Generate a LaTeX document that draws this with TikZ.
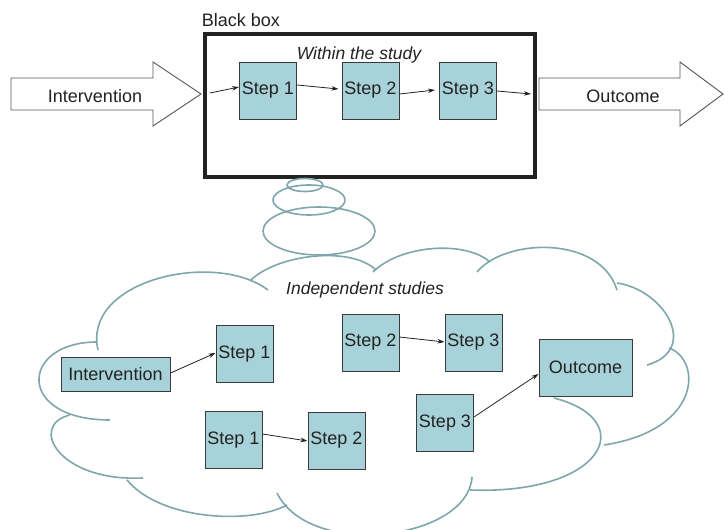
\documentclass[tikz,border=0pt]{standalone}
\usepackage{fontspec}
\setmainfont{Liberation Sans}
\usetikzlibrary{arrows.meta,calc}
\definecolor{boxfill}{HTML}{A8D2D9}
\definecolor{boxline}{HTML}{3A3A3A}
\definecolor{cloudc}{HTML}{7FA6AD}
\definecolor{ink}{HTML}{222222}
\definecolor{arrline}{HTML}{555555}
\begin{document}
\begin{tikzpicture}[x=1pt,y=-1pt,
  stepbox/.style={draw=boxline,fill=boxfill,line width=1pt,minimum width=57pt,minimum height=57pt,inner sep=0pt,text=ink,font=\fontsize{18}{21}\selectfont},
  lbl/.style={text=ink,font=\fontsize{18}{21}\selectfont,inner sep=0pt},
  conn/.style={draw=ink,line width=0.8pt,-{Stealth[length=7pt,width=4.5pt]}},
  cloudline/.style={draw=cloudc,line width=1.6pt},
  bigarrow/.style={draw=arrline,fill=white,line width=0.9pt}]
\useasboundingbox (0,0) rectangle (724,530);
\fill[white] (0,0) rectangle (724,530);

% --- top: black box ---
\node[lbl] (bblabel) at (241,20) {Black box};
\draw[draw=ink,line width=4pt] (205,34) rectangle (535,177);
\node[lbl,font=\fontsize{17.5}{21}\selectfont\itshape] (within) at (359,55) {Within the study};

\draw[bigarrow] (11,78) -- (153,78) -- (153,62) -- (201,94) -- (153,126) -- (153,110) -- (11,110) -- cycle;
\node[lbl] (intv) at (95,96) {Intervention};
\draw[bigarrow] (539,78) -- (680,78) -- (680,62) -- (723,94) -- (680,126) -- (680,110) -- (539,110) -- cycle;
\node[lbl] (outc) at (623,96) {Outcome};

\node[stepbox] (s1) at (268,90.5) {Step 1};
\node[stepbox] (s2) at (370.5,90.5) {Step 2};
\node[stepbox] (s3) at (468,90.5) {Step 3};
\coordinate (bbin) at (210,93);
\coordinate (bbout) at (531,94);
\draw[conn] (bbin) -- ([yshift=3.5pt]s1.west);
\draw[conn] ([yshift=5.5pt]s1.east) -- ([xshift=-3pt,yshift=1.5pt]s2.west);
\draw[conn] ([yshift=-3.5pt]s2.east) -- ([xshift=-4pt,yshift=0.5pt]s3.west);
\draw[conn] ([yshift=-0.5pt]s3.east) -- (bbout);

% --- thought bubbles ---
\draw[cloudline] (305,185) ellipse[x radius=18pt,y radius=6.5pt];
\draw[cloudline] (309,200) ellipse[x radius=36pt,y radius=15pt];
\draw[cloudline] (319,231) ellipse[x radius=56pt,y radius=24pt];

% --- cloud ---
\begin{scope}
\clip (0,0) rectangle (724,530);
\draw[cloudline] (250,281) .. controls (275,255) and (350,245) .. (376,270);
\draw[cloudline] (373,272) .. controls (400,245) and (465,240) .. (490,262);
\draw[cloudline] (477,272) .. controls (505,238) and (600,235) .. (617,290);
\draw[cloudline] (617,283) .. controls (665,290) and (700,350) .. (647,365);
\draw[cloudline] (669,348) .. controls (702,360) and (702,430) .. (604,445);
\draw[cloudline] (554,398) .. controls (640,420) and (605,495) .. (470,490);
\draw[cloudline] (472,477) .. controls (468,540) and (310,560) .. (277,493);
\draw[cloudline] (287,505) .. controls (250,525) and (160,520) .. (127,480);
\draw[cloudline] (143,478) .. controls (58,482) and (28,425) .. (70,415);
\draw[cloudline] (110,420) .. controls (15,420) and (20,342) .. (97,342);
\draw[cloudline] (98,350) .. controls (82,280) and (215,250) .. (268,290);
\end{scope}

\node[lbl,font=\fontsize{17.5}{21}\selectfont\itshape] (indep) at (365,290) {Independent studies};

\node[stepbox,minimum width=109pt,minimum height=34pt] (ci) at (115.5,374) {Intervention};
\node[stepbox] (c1a) at (244.5,354) {Step 1};
\node[stepbox] (c2a) at (370.5,342.5) {Step 2};
\node[stepbox] (c3a) at (473.5,342.5) {Step 3};
\node[stepbox,minimum width=93pt] (co) at (585.5,367.5) {Outcome};
\node[stepbox] (c3b) at (445,423) {Step 3};
\node[stepbox] (c1b) at (233.5,440) {Step 1};
\node[stepbox] (c2b) at (336.5,440.5) {Step 2};

\draw[conn] ([yshift=1pt]ci.east) -- ([yshift=1pt]c1a.west);
\draw[conn] ([yshift=5.5pt]c2a.east) -- ([yshift=0.5pt]c3a.west);
\draw[conn] ([yshift=6pt]c1b.east) -- ([yshift=-0.5pt]c2b.west);
\draw[conn] ([yshift=6pt]c3b.east) -- ([yshift=-6.5pt]co.west);
\end{tikzpicture}
\end{document}
